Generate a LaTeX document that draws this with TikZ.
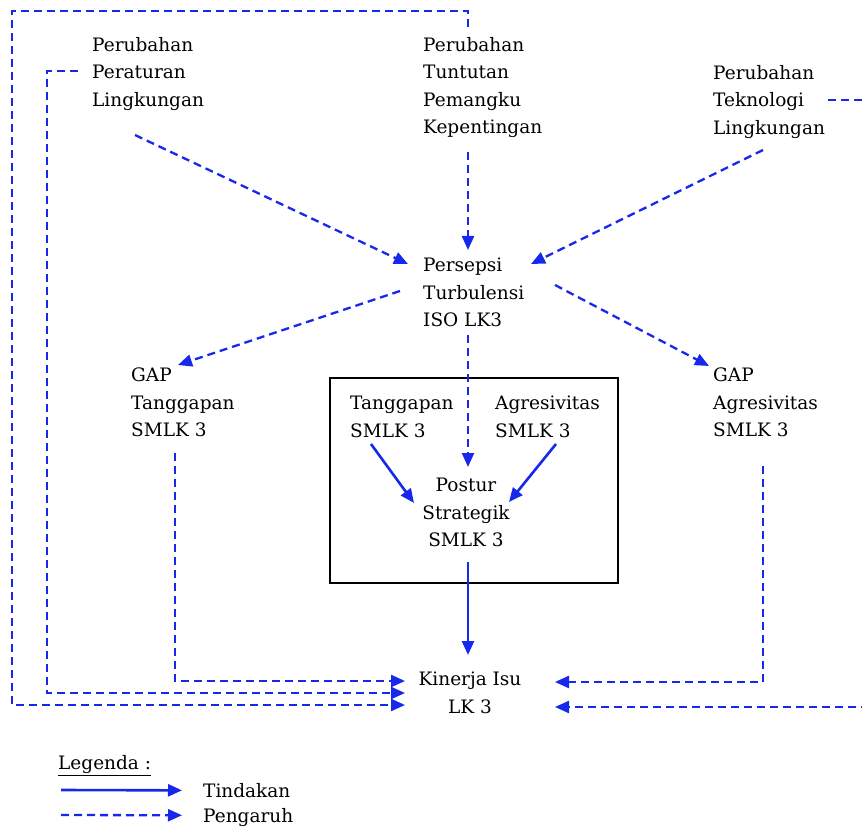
\documentclass[tikz,border=0pt]{standalone}
\usepackage{fontspec}
\setmainfont{DejaVu Serif}
\usetikzlibrary{arrows.meta}
\definecolor{flowblue}{RGB}{22,40,235}
\tikzset{
  txt/.style={anchor=north west, inner sep=0pt, align=left, font=\fontsize{18.5}{27.5}\selectfont},
  ctxt/.style={txt, anchor=north, align=center},
  infl/.style={flowblue, line width=2.3pt, dash pattern=on 8pt off 5pt, -{Triangle[length=14pt,width=12pt]}},
  act/.style={flowblue, line width=2.6pt, -{Triangle[length=14pt,width=12pt]}},
}
\begin{document}
\begin{tikzpicture}[x=1pt,y=-1pt]
\useasboundingbox (0,0) rectangle (862,829);

\node[txt] (peraturan) at (92,37) {Perubahan\\Peraturan\\Lingkungan};
\node[txt] (tuntutan) at (423,37) {Perubahan\\Tuntutan\\Pemangku\\Kepentingan};
\node[txt] (teknologi) at (713,65) {Perubahan\\Teknologi\\Lingkungan};
\node[txt] (persepsi) at (423,258) {Persepsi\\Turbulensi\\ISO LK3};
\node[txt] (gaptgp) at (131,368) {GAP\\Tanggapan\\SMLK 3};
\node[txt] (gapagr) at (713,368) {GAP\\Agresivitas\\SMLK 3};
\node[txt] (tgp) at (350,396) {Tanggapan\\SMLK 3};
\node[txt] (agr) at (495,396) {Agresivitas\\SMLK 3};
\node[ctxt] (postur) at (466,478) {Postur\\Strategik\\SMLK 3};
\node[ctxt] (kinerja) at (470,672) {Kinerja Isu\\LK 3};

\draw[line width=1.3pt] (330,378) rectangle (618,583);

% pengaruh ke persepsi
\draw[infl] ([xshift=43pt,yshift=-98pt]peraturan.north west) -- ([xshift=-15pt,yshift=-6pt]persepsi.north west);
\draw[infl] ([xshift=45pt,yshift=-115pt]tuntutan.north west) -- ([xshift=45pt,yshift=8pt]persepsi.north west);
\draw[infl] ([xshift=50pt,yshift=-85pt]teknologi.north west) -- ([xshift=108pt,yshift=-6pt]persepsi.north west);

% dari persepsi
\draw[infl] ([xshift=-23pt,yshift=-33pt]persepsi.north west) -- ([xshift=47pt,yshift=3pt]gaptgp.north west);
\draw[infl] ([xshift=132pt,yshift=-27pt]persepsi.north west) -- ([xshift=-4pt,yshift=2pt]gapagr.north west);
\draw[infl] ([xshift=45pt,yshift=-77pt]persepsi.north west) -- ([xshift=2pt,yshift=11pt]postur.north);

% tindakan
\draw[act] ([xshift=21pt,yshift=-48pt]tgp.north west) -- ([xshift=-52pt,yshift=-25pt]postur.north);
\draw[act] ([xshift=61pt,yshift=-48pt]agr.north west) -- ([xshift=43pt,yshift=-24pt]postur.north);
\draw[act] ([xshift=2pt,yshift=-84pt]postur.north) -- ([xshift=-2pt,yshift=17pt]kinerja.north);

% pengaruh ke kinerja
\draw[infl] ([xshift=44pt,yshift=-85pt]gaptgp.north west) |- ([xshift=-65pt,yshift=-9pt]kinerja.north);
\draw[infl] ([xshift=-14pt,yshift=-34pt]peraturan.north west) -- ++(-31,0) |- ([xshift=-65pt,yshift=-21pt]kinerja.north);
\draw[infl] ([xshift=45pt,yshift=10pt]tuntutan.north west) -- ++(0,-16) -- ++(-456,0) |- ([xshift=-65pt,yshift=-33pt]kinerja.north);
\draw[infl] ([xshift=50pt,yshift=-98pt]gapagr.north west) |- ([xshift=85pt,yshift=-10pt]kinerja.north);
\draw[infl] ([xshift=115pt,yshift=-35pt]teknologi.north west) -- ++(42,0) |- ([xshift=85pt,yshift=-35pt]kinerja.north);

% legenda
\node[txt] (legenda) at (58,755) {\underline{Legenda :}};
\node[txt] (tindakan) at (203,783) {Tindakan};
\node[txt] (pengaruh) at (203,808) {Pengaruh};
\coordinate (legact) at (61,790);
\coordinate (leginfl) at (61,815);
\draw[act] (legact) -- ([xshift=-21pt]tindakan.west);
\draw[infl] (leginfl) -- ([xshift=-21pt,yshift=2pt]pengaruh.west);
\end{tikzpicture}
\end{document}
